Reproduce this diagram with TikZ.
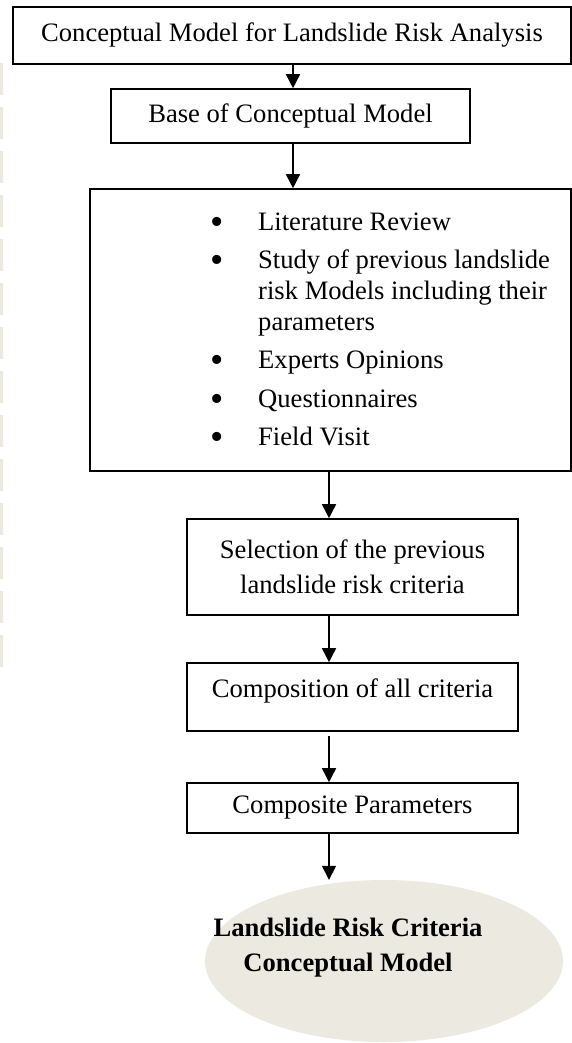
\documentclass[tikz,border=0pt]{standalone}
\usepackage{fontspec}
\setmainfont{Liberation Serif}
\usetikzlibrary{arrows.meta,shapes.geometric}
\definecolor{beige}{HTML}{ECE9E0}
\tikzset{
  box/.style={draw=black,line width=1.6pt,rectangle,inner sep=0pt,align=center,
    font=\fontsize{26.6}{35}\selectfont},
  arr/.style={line width=1.6pt,-{Triangle[length=14pt,width=14pt]}},
  item/.style={anchor=base west,inner sep=0pt,font=\fontsize{26.6}{31}\selectfont},
  bul/.style={anchor=base,inner sep=0pt,font=\fontsize{38}{38}\selectfont},
}
\begin{document}
\begin{tikzpicture}[x=1pt,y=-1pt]
\useasboundingbox (0,0) rectangle (572,1043);
% left dashed strip
\foreach \k in {0,...,13}{
  \fill[beige] (0,{63+44*\k}) rectangle (3,{95+44*\k});
}
\node[box,minimum width=558pt,minimum height=57pt] (top) at (292,35.5) {Conceptual Model for Landslide Risk Analysis};
\node[box,minimum width=359pt,minimum height=54pt] (base) at (290.5,116) {Base of Conceptual Model};
\node[box,minimum width=481pt,minimum height=282pt] (big) at (330.5,330) {};
\node[box,minimum width=331pt,minimum height=96pt] (sel) at (352.5,567) {Selection of the previous\\landslide risk criteria};
\node[box,minimum width=331pt,minimum height=68pt] (comp) at (352.5,697) {};
\node[anchor=base,inner sep=0pt,font=\fontsize{26.6}{31}\selectfont] (comptext) at (352.5,697) {Composition of all criteria};
\node[box,minimum width=331pt,minimum height=50pt] (cpar) at (352.5,808) {Composite Parameters};
\node[ellipse,fill=beige,minimum width=358pt,minimum height=162pt,inner sep=0pt] (ell) at (384,961) {};
\node[align=center,inner sep=0pt,font=\bfseries\fontsize{26.6}{35}\selectfont] (elltext) at (348,948) {Landslide Risk Criteria\\Conceptual Model};
% list
\node[bul] (b1) at (217,234) {\textbullet};
\node[item] (i1) at (258,230) {Literature Review};
\node[bul] (b2) at (217,272) {\textbullet};
\node[item] (i2a) at (258,268) {Study of previous landslide};
\node[item] (i2b) at (258,299) {risk Models including their};
\node[item] (i2c) at (258,330) {parameters};
\node[bul] (b3) at (217,372) {\textbullet};
\node[item] (i3) at (258,368) {Experts Opinions};
\node[bul] (b4) at (217,411) {\textbullet};
\node[item] (i4) at (258,407) {Questionnaires};
\node[bul] (b5) at (217,449) {\textbullet};
\node[item] (i5) at (258,445) {Field Visit};
% arrows
\coordinate (xa) at (293,0);
\coordinate (xb) at (329,0);
\draw[arr] (top.south -| xa) -- (base.north -| xa);
\draw[arr] (base.south -| xa) -- (big.north -| xa);
\draw[arr] (big.south -| xb) -- (sel.north -| xb);
\draw[arr] (sel.south -| xb) -- (comp.north -| xb);
\draw[arr] ([yshift=-4pt]comp.south -| xb) -- (cpar.north -| xb);
\draw[arr] (cpar.south -| xb) -- (ell.north -| xb);
\end{tikzpicture}
\end{document}
